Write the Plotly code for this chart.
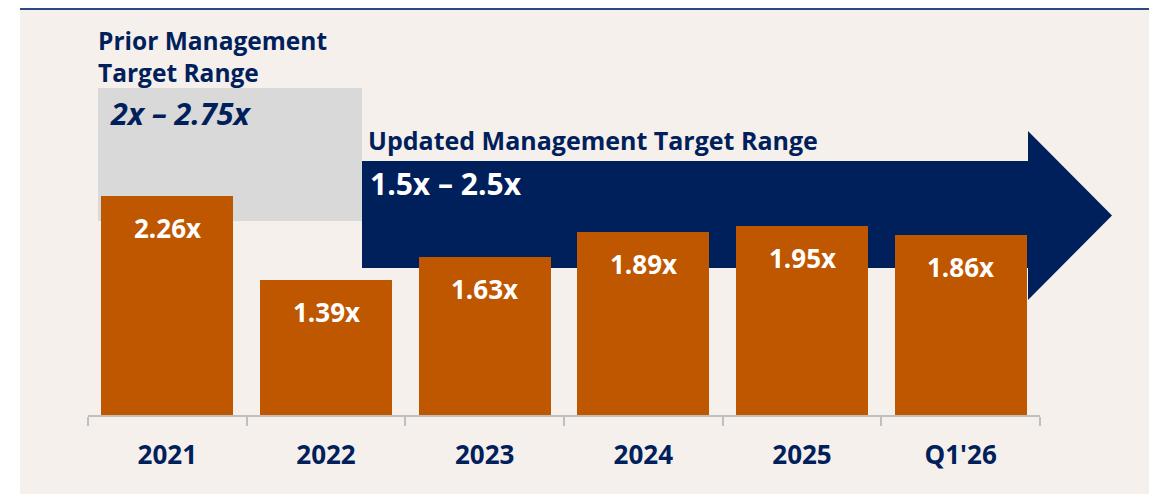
import plotly.graph_objects as go

categories = ["2021", "2022", "2023", "2024", "2025", "Q1'26"]
leverage = [2.26, 1.39, 1.63, 1.89, 1.95, 1.86]
prior_label = "Prior Management<br>Target Range"
prior_range = "2x – 2.75x"
updated_label = "Updated Management Target Range"
updated_range = "1.5x – 2.5x"

# page is offset by the 8px body margin
OFF = 8
W, H = 1157 - OFF, 494 - OFF
NAVY = "#00205B"
ORANGE = "#BF5600"
GRAY = "#D9D9D9"
BEIGE = "#F5F0EC"
AXIS = "#BFBFBF"
FONT = "Open Sans"

def px(x):
    return (x - OFF) / W

def py(y):
    return 1 - (y - OFF) / H

base_px, top_px = 415, 8
unit = 97.0
ymax = (base_px - top_px) / unit

fig = go.Figure()
fig.add_trace(go.Bar(
    x=categories, y=leverage, marker=dict(color=ORANGE, line=dict(width=0)),
    width=0.83, hoverinfo="skip", showlegend=False,
))

for i, v in enumerate(leverage):
    fig.add_annotation(x=i, y=v, xref="x", yref="y", text=f"<b>{v:.2f}x</b>",
                       showarrow=False, yanchor="middle", yshift=-32,
                       font=dict(family=FONT, size=26, color="white"))

shapes = [
    dict(type="rect", xref="paper", yref="paper", x0=px(20), x1=1, y0=0, y1=py(10),
         fillcolor=BEIGE, line=dict(width=0), layer="below"),
    dict(type="line", xref="paper", yref="paper", x0=px(20), x1=1, y0=py(9), y1=py(9),
         line=dict(color="#2B4A80", width=2), layer="below"),
    dict(type="rect", xref="paper", yref="paper", x0=px(98), x1=px(362), y0=py(221), y1=py(88),
         fillcolor=GRAY, line=dict(width=0), layer="below"),
    dict(type="path", xref="paper", yref="paper",
         path=(f"M {px(362)} {py(161)} L {px(1028)} {py(161)} L {px(1028)} {py(131)} "
               f"L {px(1112)} {py(215.5)} L {px(1028)} {py(300)} L {px(1028)} {py(268)} "
               f"L {px(362)} {py(268)} Z"),
         fillcolor=NAVY, line=dict(width=0), layer="below"),
]

fig.add_annotation(xref="paper", yref="paper", x=px(96), y=py(56), text=f"<b>{prior_label}</b>",
                   showarrow=False, xanchor="left", yanchor="middle", align="left",
                   font=dict(family=FONT, size=24.5, color=NAVY))
fig.add_annotation(xref="paper", yref="paper", x=px(108), y=py(113), text=f"<b><i>{prior_range}</i></b>",
                   showarrow=False, xanchor="left", yanchor="middle",
                   font=dict(family=FONT, size=30.5, color=NAVY))
fig.add_annotation(xref="paper", yref="paper", x=px(366), y=py(140), text=f"<b>{updated_label}</b>",
                   showarrow=False, xanchor="left", yanchor="middle",
                   font=dict(family=FONT, size=25, color=NAVY))
fig.add_annotation(xref="paper", yref="paper", x=px(368), y=py(183), text=f"<b>{updated_range}</b>",
                   showarrow=False, xanchor="left", yanchor="middle",
                   font=dict(family=FONT, size=30, color="white"))

fig.update_layout(
    width=W, height=H, margin=dict(l=0, r=0, t=0, b=0),
    paper_bgcolor="white", plot_bgcolor="rgba(0,0,0,0)",
    shapes=shapes, bargap=0,
    xaxis=dict(domain=[px(88), px(1040)], range=[-0.5, 5.5], type="category",
               showline=True, linecolor=AXIS, linewidth=2, ticks="outside",
               tickson="boundaries", ticklen=9, tickcolor=AXIS, tickwidth=2,
               showgrid=False, ticklabelstandoff=16,
               tickfont=dict(family=FONT, size=26, color=NAVY), fixedrange=True),
    yaxis=dict(domain=[py(base_px), py(top_px)], range=[0, ymax], visible=False,
               fixedrange=True),
)
fig.update_xaxes(tickvals=categories, ticktext=[f"<b>{c}</b>" for c in categories])

fig.write_html("out.html")
